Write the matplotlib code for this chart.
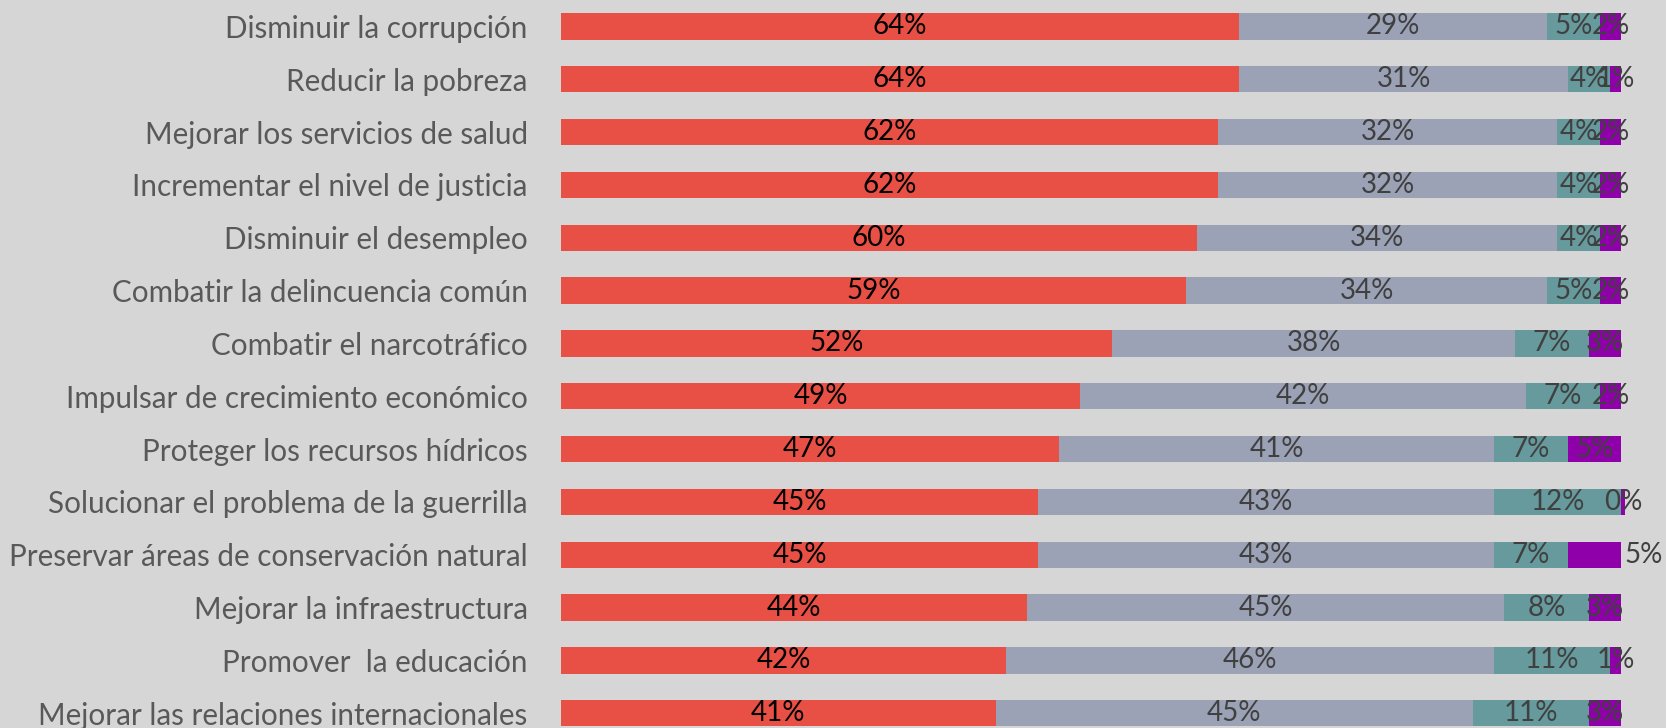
import numpy as np
import matplotlib.pyplot as plt

# datos (porcentajes)
categorias = [
    "Disminuir la corrupción",
    "Reducir la pobreza",
    "Mejorar los servicios de salud",
    "Incrementar el nivel de justicia",
    "Disminuir el desempleo",
    "Combatir la delincuencia común",
    "Combatir el narcotráfico",
    "Impulsar de crecimiento económico",
    "Proteger los recursos hídricos",
    "Solucionar el problema de la guerrilla",
    "Preservar áreas de conservación natural",
    "Mejorar la infraestructura",
    "Promover  la educación",
    "Mejorar las relaciones internacionales",
]
serie_1 = [64, 64, 62, 62, 60, 59, 52, 49, 47, 45, 45, 44, 42, 41]
serie_2 = [29, 31, 32, 32, 34, 34, 38, 42, 41, 43, 43, 45, 46, 45]
serie_3 = [5, 4, 4, 4, 4, 5, 7, 7, 7, 12, 7, 8, 11, 11]
serie_4 = [2, 1, 2, 2, 2, 2, 3, 2, 5, 0.4, 5, 3, 1, 3]

colores = ["#e84f45", "#9ba2b5", "#669a9c", "#9000aa"]
color_texto = ["#000000", "#404040", "#404040", "#404040"]
fondo = "#d6d6d6"

plt.rcParams['font.family'] = ['Lato', 'DejaVu Sans']

fig = plt.figure(figsize=(16.66, 7.28), dpi=100, facecolor=fondo)
ax = fig.add_axes([561 / 1666, 0, 1 - 561 / 1666, 1])
ax.set_facecolor(fondo)

y = np.arange(len(categorias))
izq = np.zeros(len(categorias))
for k, serie in enumerate([serie_1, serie_2, serie_3, serie_4]):
    vals = np.array(serie, dtype=float)
    ax.barh(y, vals, left=izq, height=0.5, color=colores[k], edgecolor='none')
    for i, v in enumerate(vals):
        txt = f"{v:.0f}%"
        if k == 3 and categorias[i].startswith("Preservar"):
            # etiqueta fuera de la barra
            ax.text(izq[i] + v + 0.3, i, txt, ha='left', va='center',
                    fontsize=20, color=color_texto[k])
        else:
            ax.text(izq[i] + v / 2, i, txt, ha='center', va='center',
                    fontsize=20, color=color_texto[k])
    izq += vals

ax.set_xlim(0, (1666 - 561) / 10.6)
ax.set_ylim(13.28, -0.5)
ax.set_yticks(y)
ax.set_yticklabels(categorias, fontsize=21.3, color="#595959")
ax.tick_params(axis='y', length=0, pad=24)
ax.set_xticks([])
for s in ax.spines.values():
    s.set_visible(False)

plt.savefig('out.png', dpi=100, facecolor=fondo)
